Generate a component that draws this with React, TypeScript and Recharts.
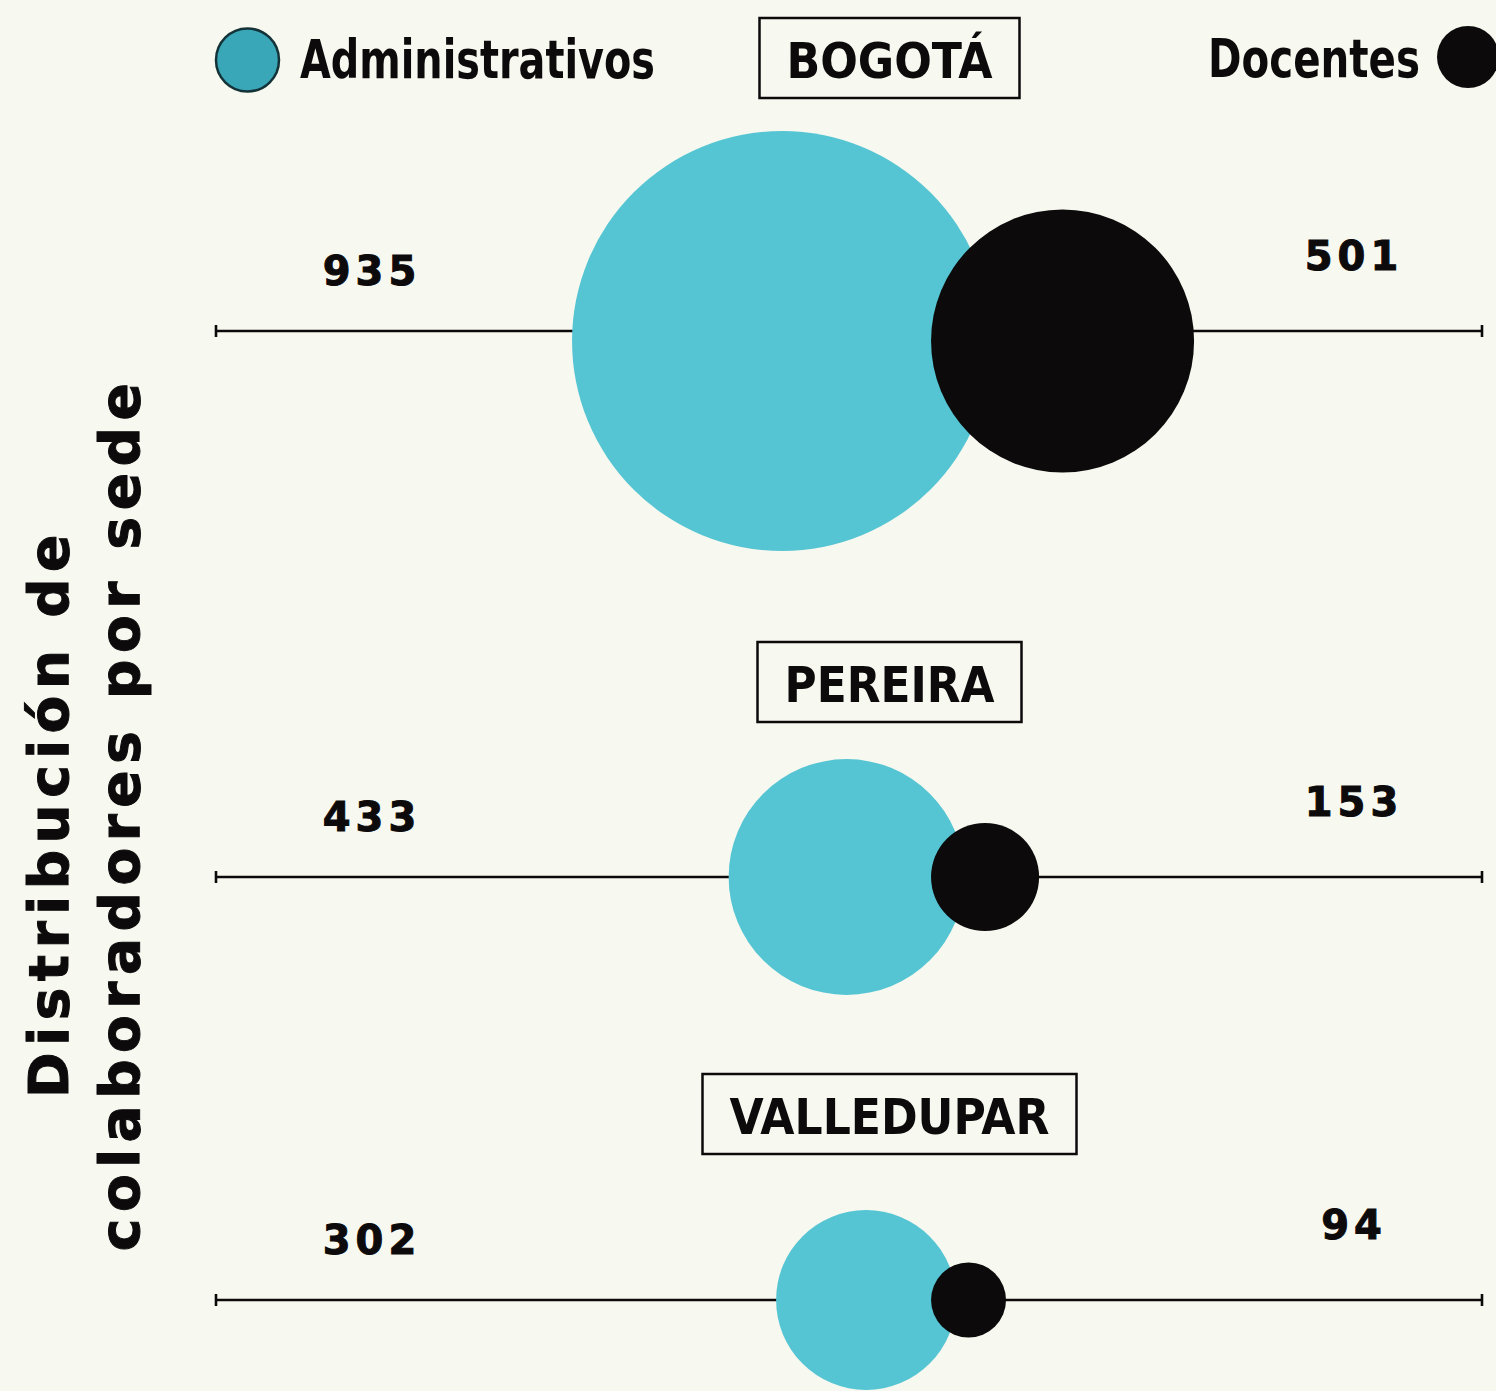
import React from 'react'
import {
  ScatterChart,
  Scatter,
  XAxis,
  YAxis,
  ZAxis,
  ReferenceLine,
  Legend,
} from 'recharts'

// ─── Data ─────────────────────────────────────────────────────────────────────

const SEDES = ['BOGOTÁ', 'PEREIRA', 'VALLEDUPAR']
const ADMINISTRATIVOS = [935, 433, 302]
const DOCENTES = [501, 153, 94]
const SERIES = ['Administrativos', 'Docentes']
const AXIS_TITLE = ['Distribución de', 'colaboradores por sede']

// ─── Look ─────────────────────────────────────────────────────────────────────

const BG = '#f7f8ef'
const TEAL = '#55c5d3'
const TEAL_LEGEND = '#3aa7b8'
const INK = '#0c0a0b'

const LABEL_FONT = "'Liberation Sans Narrow', 'DejaVu Sans Condensed', 'Roboto', sans-serif"
const NUMBER_FONT = "'DejaVu Sans', 'Open Sans', sans-serif"

const W = 1496
const H = 1391
const PLOT_LEFT = 215
const PLOT_RIGHT = 13
const MEET_X = 0.5647 // where the two bubbles of a row meet, share of the plot width
const MAX_R = 210
const AREA_EXP = 1.5

// row layout: chart top, distance from chart top to bubble centre, line shift
const ROW_TOP = [0, 624, 1056]
const ROW_MID = [341, 253, 244]
const ROW_LINE_SHIFT = [-10, 0, 0]
const LABEL_TEXT_W = [206, 210, 320]

const MAX_VALUE = Math.max(...ADMINISTRATIVOS, ...DOCENTES)

// ─── Bubble size scale (area grows a bit faster than the value) ───────────────

function powScale(exp: number) {
  let dom = [0, 1]
  let rng = [0, 1]
  const scale: any = (v: number) => {
    const a = Math.pow(dom[0], exp)
    const b = Math.pow(dom[1], exp)
    if (b === a) return rng[0]
    return rng[0] + ((Math.pow(v, exp) - a) / (b - a)) * (rng[1] - rng[0])
  }
  scale.domain = (d?: number[]) => {
    if (d === undefined) return dom.slice()
    dom = d.map(Number)
    return scale
  }
  scale.range = (r?: number[]) => {
    if (r === undefined) return rng.slice()
    rng = r.map(Number)
    return scale
  }
  scale.copy = () => powScale(exp).domain(dom).range(rng)
  scale.ticks = () => dom.slice()
  return scale
}

const areaScale = powScale(AREA_EXP)

// ─── Shapes ───────────────────────────────────────────────────────────────────

function radiusOf(p: any) {
  if (typeof p.size === 'number') return Math.sqrt(Math.max(p.size, 0) / Math.PI)
  return (p.width ?? 0) / 2
}

function TealBubble(p: any) {
  const r = radiusOf(p)
  return <circle cx={p.cx - 0.7 * r - 2} cy={p.cy} r={r} fill={TEAL} />
}

function InkBubble(p: any) {
  const r = radiusOf(p)
  return <circle cx={p.cx + r} cy={p.cy} r={r} fill={INK} />
}

function RowLine(p: any) {
  const y = p.y1 + (p.shift ?? 0)
  const x1 = p.x1 + 1
  const x2 = p.x2 - 1
  return (
    <g>
      <line x1={x1} x2={x2} y1={y} y2={y} stroke={INK} strokeWidth={2.6} />
      <line x1={x1} x2={x1} y1={y - 6} y2={y + 6} stroke={INK} strokeWidth={2.6} />
      <line x1={x2} x2={x2} y1={y - 6} y2={y + 6} stroke={INK} strokeWidth={2.6} />
    </g>
  )
}

function RowLabels({ viewBox, index }: { viewBox?: any; index: number }) {
  if (!viewBox) return null
  const y = viewBox.y + ROW_LINE_SHIFT[index]
  const left = viewBox.x
  const right = viewBox.x + viewBox.width
  const boxW = LABEL_TEXT_W[index] + 54
  const boxX = left + 674.5 - boxW / 2
  const numStyle = {
    fontFamily: NUMBER_FONT,
    fontWeight: 700,
    fontSize: 40,
    letterSpacing: 5,
    fill: INK,
    stroke: INK,
    strokeWidth: 1,
  }
  return (
    <g>
      <text x={left + 157} y={y - 46} textAnchor="middle" style={numStyle}>
        {ADMINISTRATIVOS[index]}
      </text>
      <text x={right - 129} y={y - 61} textAnchor="middle" style={numStyle}>
        {DOCENTES[index]}
      </text>
      <rect x={boxX} y={18} width={boxW} height={80} fill="none" stroke={INK} strokeWidth={2.5} />
      <text
        x={left + 674.5}
        y={78}
        textAnchor="middle"
        textLength={LABEL_TEXT_W[index]}
        lengthAdjust="spacingAndGlyphs"
        style={{ fontFamily: LABEL_FONT, fontWeight: 700, fontSize: 50, fill: INK }}
      >
        {SEDES[index]}
      </text>
    </g>
  )
}

// ─── Legend ───────────────────────────────────────────────────────────────────

function LegendRow({ payload }: { payload?: Array<{ value: string; color: string }> }) {
  if (!payload?.length) return null
  const textStyle = { fontFamily: LABEL_FONT, fontWeight: 700, fontSize: 53, fill: INK }
  const [adm, doc] = payload
  return (
    <svg width={W} height={100} style={{ position: 'absolute', left: 0, top: 0, overflow: 'hidden' }}>
      <circle cx={247.5} cy={60} r={31.5} fill={TEAL_LEGEND} stroke="#143338" strokeWidth={2.5} />
      <text x={300} y={78} textLength={355} lengthAdjust="spacingAndGlyphs" style={textStyle}>
        {adm?.value}
      </text>
      <text x={1420} y={77} textAnchor="end" textLength={212} lengthAdjust="spacingAndGlyphs" style={textStyle}>
        {doc?.value}
      </text>
      <circle cx={1468} cy={57} r={31} fill={doc?.color ?? INK} />
    </svg>
  )
}

// ─── One sede ─────────────────────────────────────────────────────────────────

function SedeRow({ index }: { index: number }) {
  const adm = [{ x: MEET_X, y: 0, z: ADMINISTRATIVOS[index] }]
  const doc = [{ x: MEET_X, y: 0, z: DOCENTES[index] }]
  return (
    <div style={{ position: 'absolute', left: 0, top: ROW_TOP[index] }}>
      <ScatterChart
        width={W}
        height={ROW_MID[index] * 2}
        margin={{ top: 0, right: PLOT_RIGHT, bottom: 0, left: PLOT_LEFT }}
      >
        <XAxis type="number" dataKey="x" domain={[0, 1]} hide />
        <YAxis type="number" dataKey="y" domain={[-1, 1]} hide />
        <ZAxis
          type="number"
          dataKey="z"
          domain={[0, MAX_VALUE]}
          range={[0, Math.PI * MAX_R * MAX_R]}
          scale={areaScale}
        />
        <ReferenceLine
          y={0}
          ifOverflow="visible"
          shape={<RowLine shift={ROW_LINE_SHIFT[index]} />}
          label={(p: any) => <RowLabels viewBox={p.viewBox ?? p} index={index} />}
        />
        <Scatter
          name={SERIES[0]}
          data={adm}
          fill={TEAL}
          shape={TealBubble}
          isAnimationActive={false}
        />
        <Scatter
          name={SERIES[1]}
          data={doc}
          fill={INK}
          shape={InkBubble}
          isAnimationActive={false}
        />
        {index === 0 && (
          <Legend
            verticalAlign="top"
            content={<LegendRow />}
            wrapperStyle={{ top: 0, left: 0, width: W, height: 0, overflow: 'visible' }}
          />
        )}
      </ScatterChart>
    </div>
  )
}

// ─── App ──────────────────────────────────────────────────────────────────────

export default function App() {
  const titleStyle = {
    fontFamily: NUMBER_FONT,
    fontWeight: 700,
    fontSize: 55,
    letterSpacing: 6.5,
    fill: INK,
    stroke: INK,
    strokeWidth: 1,
  }
  return (
    <div
      style={{
        position: 'absolute',
        left: 0,
        top: 0,
        width: W,
        height: H,
        background: BG,
        overflow: 'hidden',
      }}
    >
      <svg width={180} height={H} style={{ position: 'absolute', left: 0, top: 0 }}>
        <text x={68} y={813} textAnchor="middle" transform="rotate(-90 68 813)" style={titleStyle}>
          {AXIS_TITLE[0]}
        </text>
        <text x={139} y={814} textAnchor="middle" transform="rotate(-90 139 814)" style={titleStyle}>
          {AXIS_TITLE[1]}
        </text>
      </svg>
      {SEDES.map((_, i) => (
        <SedeRow key={SEDES[i]} index={i} />
      ))}
    </div>
  )
}
